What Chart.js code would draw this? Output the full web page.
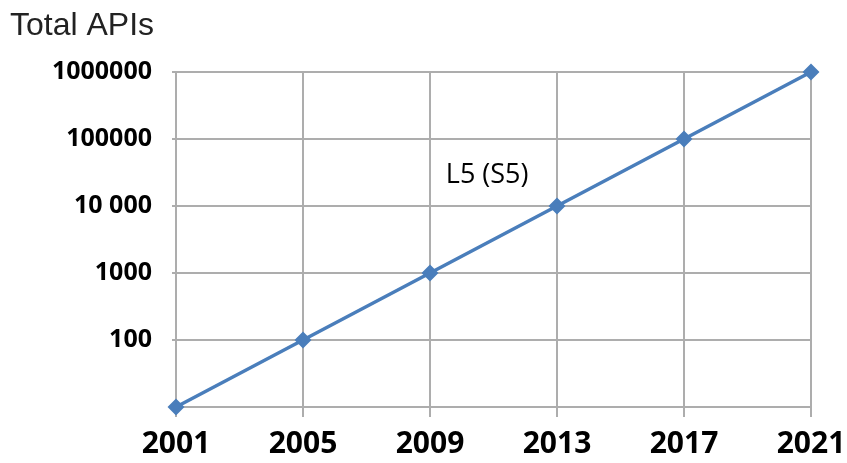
<!DOCTYPE html>
<html>
<head>
<meta charset="utf-8">
<title>Total APIs</title>
<script src="https://cdn.jsdelivr.net/npm/chart.js@4/dist/chart.umd.min.js"></script>
<style>
  html, body { margin: 0; padding: 0; background: #fff; }
  #wrap { width: 847px; height: 463px; }
</style>
</head>
<body>
<div id="wrap"><canvas id="apiChart" width="847" height="463"></canvas></div>
<script>
// growth of total APIs, one point every four years
const years = ['2001', '2005', '2009', '2013', '2017', '2021'];
const totalApis = [10, 100, 1000, 10000, 100000, 1000000];
const yTickValues = [10, 100, 1000, 10000, 100000, 1000000];
const yTickLabels = ['', '100', '1000', '10 000', '100000', '1000000'];

const gridColor = '#adadad';
const lineColor = '#4a7ebb';

// title in the corner and the series tag inside the plot
const textPlugin = {
    id: 'texts',
    afterDraw(chart) {
        const ctx = chart.ctx;
        const { x, y } = chart.scales;
        ctx.save();
        ctx.fillStyle = '#222';
        ctx.textBaseline = 'alphabetic';
        ctx.textAlign = 'left';
        ctx.font = '32px "Liberation Sans", Arial, sans-serif';
        ctx.fillText('Total APIs', 10, 35);

        ctx.fillStyle = '#000';
        ctx.textAlign = 'center';
        ctx.textBaseline = 'middle';
        ctx.font = '27px "Open Sans", sans-serif';
        ctx.fillText('L5 (S5)', x.getPixelForValue(2.45), y.getPixelForValue(29000));
        ctx.restore();
    }
};

new Chart(document.getElementById('apiChart'), {
    type: 'line',
    data: {
        labels: years,
        datasets: [{
            data: totalApis,
            borderColor: lineColor,
            backgroundColor: lineColor,
            borderWidth: 3.5,
            pointStyle: 'rectRot',
            pointRadius: 6,
            pointHoverRadius: 6,
            tension: 0,
            clip: false
        }]
    },
    options: {
        responsive: false,
        animation: false,
        layout: { padding: { top: 72, right: 36, left: 0, bottom: 0 } },
        plugins: {
            legend: { display: false },
            tooltip: { enabled: false }
        },
        scales: {
            x: {
                type: 'category',
                offset: false,
                grid: {
                    color: gridColor,
                    lineWidth: 2,
                    tickLength: 10,
                    drawTicks: true
                },
                border: { color: gridColor, width: 2 },
                ticks: {
                    color: '#000',
                    padding: 9,
                    maxRotation: 0,
                    font: { family: 'Open Sans', weight: 'bold', size: 30 }
                },
                afterFit(scale) {
                    // let the end labels hang past the plot edges
                    scale.height = 56;
                    scale.paddingLeft = 0;
                    scale.paddingRight = 0;
                }
            },
            y: {
                type: 'logarithmic',
                min: 10,
                max: 1000000,
                grid: {
                    color: gridColor,
                    lineWidth: 2,
                    tickLength: 4
                },
                border: { color: gridColor, width: 2 },
                afterBuildTicks(scale) {
                    scale.ticks = yTickValues.map(v => ({ value: v }));
                },
                ticks: {
                    color: '#000',
                    padding: 20,
                    font: { family: 'Open Sans', weight: 'bold', size: 25 },
                    callback(value) {
                        const i = yTickValues.indexOf(value);
                        return i >= 0 ? yTickLabels[i] : '';
                    }
                },
                afterFit(scale) { scale.width = 176; }
            }
        }
    },
    plugins: [textPlugin]
});
</script>
</body>
</html>
